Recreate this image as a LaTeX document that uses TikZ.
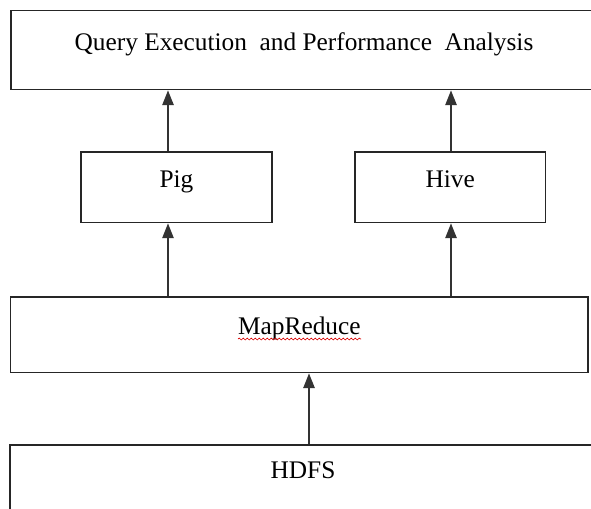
\documentclass[tikz,border=0pt]{standalone}
\usepackage{fontspec}
\setmainfont{Liberation Serif}
\usetikzlibrary{arrows.meta,decorations.pathmorphing}
\begin{document}
\begin{tikzpicture}[x=0.75pt,y=-0.75pt,
  box/.style={draw=black!85, line width=1.3pt, inner sep=0pt,
    text height=9pt, text depth=9pt, font=\fontsize{19}{21}\selectfont},
  arr/.style={draw=black!80, line width=1.1pt,
    -{Triangle[width=8.5pt,length=11pt]}},
  squiggle/.style={draw=red!85!black, line width=0.5pt, decorate,
    decoration={snake, amplitude=0.7pt, segment length=3pt}}]
\useasboundingbox (0,0) rectangle (591,508);
\node[box, minimum width=439.5pt, minimum height=59.25pt] (qe) at (304,50)
  {Query Execution\ \ and Performance\ \ Analysis};
\node[box, minimum width=143.25pt, minimum height=52.9pt] (pig) at (176.5,187.25) {Pig};
\node[box, minimum width=142.9pt, minimum height=52.9pt] (hive) at (450.25,187.25) {Hive};
\node[box, minimum width=433.3pt, minimum height=56.6pt] (mr) at (299.4,334.75) {MapReduce};
\node[box, minimum width=439.1pt, minimum height=49.5pt] (hdfs) at (303,478) {HDFS};
\coordinate (xl) at (168,0);
\coordinate (xr) at (451,0);
\coordinate (xm) at (309,0);
\draw[arr] (pig.north -| xl) -- (qe.south -| xl);
\draw[arr] (hive.north -| xr) -- (qe.south -| xr);
\draw[arr] (mr.north -| xl) -- (pig.south -| xl);
\draw[arr] (mr.north -| xr) -- (hive.south -| xr);
\draw[arr] (hdfs.north -| xm) -- (mr.south -| xm);
\coordinate (u1) at (238,339);
\coordinate (u2) at (361,339);
\draw[squiggle] (u1) -- (u2);
\end{tikzpicture}
\end{document}
